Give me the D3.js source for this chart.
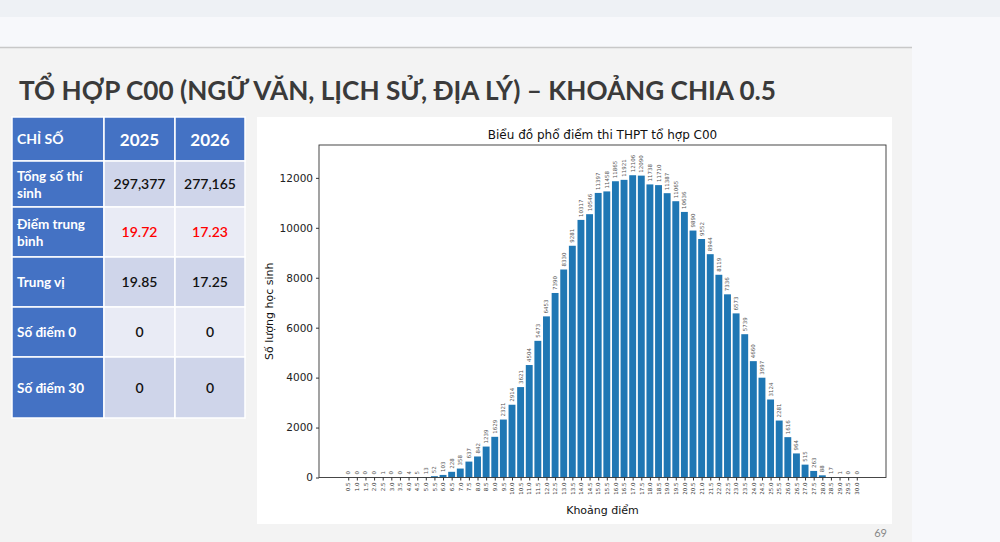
<!DOCTYPE html>
<html>
<head>
<meta charset="utf-8">
<script src="https://cdn.jsdelivr.net/npm/d3@7"></script>
<style>
  body { margin: 0; background: #f7f8fb; }
  svg { display: block; }
</style>
</head>
<body>
<svg id="page" width="1000" height="542"></svg>
<script>
// score bins (x tick labels) and number of students in each bin
var scoreBins = ["0.5","1.0","1.5","2.0","2.5","3.0","3.5","4.0","4.5","5.0",
  "5.5","6.0","6.5","7.0","7.5","8.0","8.5","9.0","9.5","10.0",
  "10.5","11.0","11.5","12.0","12.5","13.0","13.5","14.0","14.5","15.0",
  "15.5","16.0","16.5","17.0","17.5","18.0","18.5","19.0","19.5","20.0",
  "20.5","21.0","21.5","22.0","22.5","23.0","23.5","24.0","24.5","25.0",
  "25.5","26.0","26.5","27.0","27.5","28.0","28.5","29.0","29.5","30.0"];
var counts = [0,0,0,0,1,0,0,4,5,13,
  52,103,228,358,637,842,1239,1629,2321,2914,
  3621,4504,5473,6453,7390,8330,9281,10317,10546,11397,
  11458,11865,11921,12106,12090,11738,11710,11387,11065,10636,
  9890,9552,8944,8119,7336,6573,5739,4660,3997,3124,
  2281,1616,964,515,263,88,17,1,0,0];
var yTicks = [0, 2000, 4000, 6000, 8000, 10000, 12000];

// stats table
var tableHeader = ["CHỈ SỐ", "2025", "2026"];
var rowLabels = [["Tổng số thí", "sinh"], ["Điểm trung", "bình"], ["Trung vị"], ["Số điểm 0"], ["Số điểm 30"]];
var values2025 = ["297,377", "19.72", "19.85", "0", "0"];
var values2026 = ["277,165", "17.23", "17.25", "0", "0"];
var redRow = 1;

var svg = d3.select("#page");

// page background
svg.append("rect").attr("x", 0).attr("y", 0).attr("width", 1000).attr("height", 17).attr("fill", "#eef1f5");
svg.append("rect").attr("x", 0).attr("y", 48).attr("width", 912).attr("height", 494).attr("fill", "#f3f3f3");
svg.append("line").attr("x1", 0).attr("x2", 912).attr("y1", 47.5).attr("y2", 47.5)
  .attr("stroke", "#c8c8c8").attr("stroke-width", 1.5);

// slide title
svg.append("text")
  .attr("x", 19).attr("y", 100)
  .attr("textLength", 757)
  .attr("lengthAdjust", "spacingAndGlyphs")
  .style("font-family", "Lato, 'DejaVu Sans', sans-serif")
  .style("font-size", "26px")
  .style("font-weight", "700")
  .style("fill", "#3a3a3a")
  .text("TỔ HỢP C00 (NGỮ VĂN, LỊCH SỬ, ĐỊA LÝ) – KHOẢNG CHIA 0.5");

// page number
svg.append("text").attr("x", 887).attr("y", 537).attr("text-anchor", "end")
  .style("font-family", "Lato, sans-serif").style("font-size", "11px").style("fill", "#888")
  .text("69");

// ---------- table ----------
var colX = [12, 104, 175, 245];
var rowY = [117, 161, 207, 257, 307, 357, 418];
var tbl = svg.append("g");
var font = "Lato, 'Open Sans', sans-serif";

function cell(x0, x1, y0, y1, fill) {
  tbl.append("rect").attr("x", x0).attr("y", y0)
    .attr("width", x1 - x0).attr("height", y1 - y0)
    .attr("fill", fill).attr("stroke", "#ffffff").attr("stroke-width", 1.5);
}

// header
for (var c = 0; c < 3; c++) cell(colX[c], colX[c + 1], rowY[0], rowY[1], "#4472c4");
tbl.append("text").attr("x", 17).attr("y", rowY[0] + 27)
  .style("font-family", font).style("font-size", "14px").style("font-weight", "700").style("fill", "#fff")
  .text(tableHeader[0]);
tableHeader.slice(1).forEach(function (h, i) {
  tbl.append("text").attr("x", (colX[i + 1] + colX[i + 2]) / 2).attr("y", rowY[0] + 29)
    .attr("text-anchor", "middle")
    .style("font-family", font).style("font-size", "17px").style("font-weight", "700").style("fill", "#fff")
    .text(h);
});

rowLabels.forEach(function (lab, r) {
  var y0 = rowY[r + 1], y1 = rowY[r + 2];
  var bg = r % 2 === 0 ? "#cfd5ea" : "#e9ebf5";
  cell(colX[0], colX[1], y0, y1, "#4472c4");
  cell(colX[1], colX[2], y0, y1, bg);
  cell(colX[2], colX[3], y0, y1, bg);
  var mid = (y0 + y1) / 2;
  var t = tbl.append("text").attr("x", 17)
    .style("font-family", font).style("font-size", "13.5px").style("font-weight", "700").style("fill", "#fff");
  if (lab.length === 2) {
    t.append("tspan").attr("x", 17).attr("y", mid - 3).text(lab[0]);
    t.append("tspan").attr("x", 17).attr("y", mid + 14).text(lab[1]);
  } else {
    t.attr("y", mid + 5).text(lab[0]);
  }
  [values2025[r], values2026[r]].forEach(function (v, i) {
    tbl.append("text").attr("x", (colX[i + 1] + colX[i + 2]) / 2).attr("y", mid + 5)
      .attr("text-anchor", "middle")
      .style("font-family", font).style("font-size", "14px").style("font-weight", "600")
      .style("fill", r === redRow ? "#ff0000" : "#111")
      .text(v);
  });
});

// ---------- chart ----------
svg.append("rect").attr("x", 257).attr("y", 117).attr("width", 635).attr("height", 407).attr("fill", "#ffffff");

var plot = { left: 319, right: 886, top: 145, bottom: 477.5 };
var chartFont = "'DejaVu Sans', sans-serif";

var n = counts.length;
var x = d3.scaleLinear()
  .domain([-0.4 - 0.05 * (n - 0.2), (n - 1) + 0.4 + 0.05 * (n - 0.2)])
  .range([plot.left, plot.right]);
var y = d3.scaleLinear()
  .domain([0, d3.max(counts) * 1.1])
  .range([plot.bottom, plot.top]);

var g = svg.append("g");
var barW = x(0.8) - x(0);

g.selectAll("rect.bar")
  .data(counts)
  .enter()
  .append("rect")
  .attr("class", "bar")
  .attr("x", function (d, i) { return x(i) - barW / 2; })
  .attr("y", function (d) { return y(d); })
  .attr("width", barW)
  .attr("height", function (d) { return y(0) - y(d); })
  .attr("fill", "#1f77b4");

// value labels above bars
g.selectAll("text.val")
  .data(counts)
  .enter()
  .append("text")
  .attr("class", "val")
  .attr("transform", function (d, i) { return "translate(" + (x(i) + 2) + "," + (y(d) - 3) + ") rotate(-90)"; })
  .style("font-family", chartFont)
  .style("font-size", "5.5px")
  .style("fill", "#555")
  .text(function (d) { return d; });

// frame
g.append("rect")
  .attr("x", plot.left).attr("y", plot.top)
  .attr("width", plot.right - plot.left).attr("height", plot.bottom - plot.top)
  .attr("fill", "none").attr("stroke", "#333").attr("stroke-width", 0.9);

// y axis
var yAxis = g.append("g")
  .attr("transform", "translate(" + plot.left + ",0)")
  .call(d3.axisLeft(y).tickValues(yTicks).tickSize(3).tickPadding(3).tickFormat(d3.format("d")));
yAxis.select(".domain").remove();
yAxis.selectAll("line").attr("stroke", "#333");
yAxis.selectAll("text")
  .style("font-family", chartFont).style("font-size", "10.5px").style("fill", "#222");

// x axis
var xAxis = g.append("g")
  .attr("transform", "translate(0," + plot.bottom + ")")
  .call(d3.axisBottom(x).tickValues(d3.range(n)).tickSize(3)
    .tickFormat(function (i) { return scoreBins[i]; }));
xAxis.select(".domain").remove();
xAxis.selectAll("line").attr("stroke", "#333");
xAxis.selectAll("text")
  .attr("transform", "translate(0,5) rotate(-90)")
  .attr("x", 0).attr("y", 0).attr("dy", "0.32em")
  .attr("text-anchor", "end")
  .style("font-family", chartFont).style("font-size", "5.5px").style("fill", "#333");

// titles
svg.append("text")
  .attr("x", (plot.left + plot.right) / 2).attr("y", 139)
  .attr("text-anchor", "middle")
  .style("font-family", chartFont).style("font-size", "12px").style("fill", "#111")
  .text("Biểu đồ phổ điểm thi THPT tổ hợp C00");
svg.append("text")
  .attr("x", (plot.left + plot.right) / 2).attr("y", 514)
  .attr("text-anchor", "middle")
  .style("font-family", chartFont).style("font-size", "11px").style("fill", "#111")
  .text("Khoảng điểm");
svg.append("text")
  .attr("transform", "translate(273," + ((plot.top + plot.bottom) / 2) + ") rotate(-90)")
  .attr("text-anchor", "middle")
  .style("font-family", chartFont).style("font-size", "11px").style("fill", "#111")
  .text("Số lượng học sinh");
</script>
</body>
</html>
